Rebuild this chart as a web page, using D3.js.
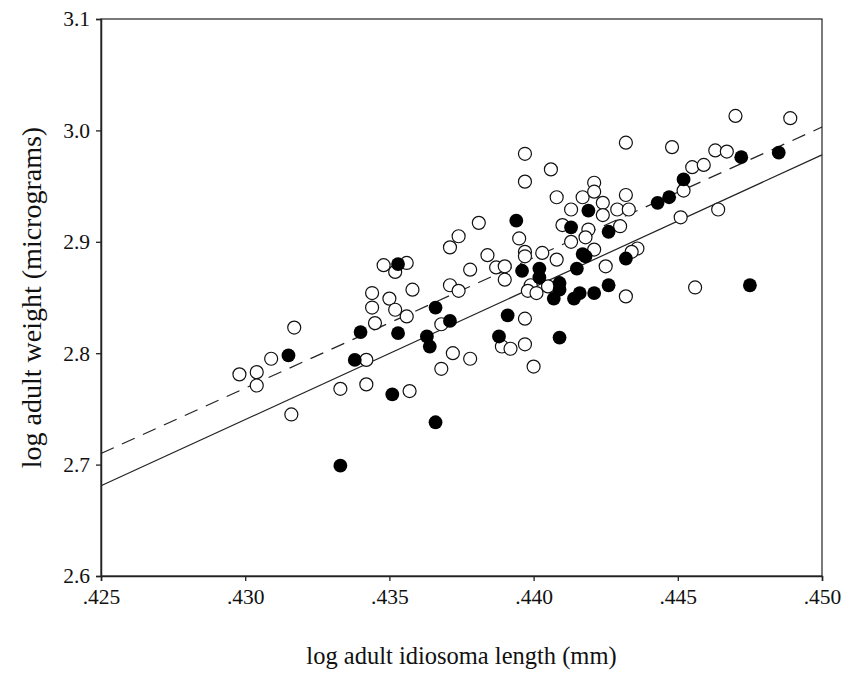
<!DOCTYPE html>
<html>
<head>
<meta charset="utf-8">
<script src="https://cdn.jsdelivr.net/npm/d3@7"></script>
<style>
  body { margin: 0; background: #fff; }
  svg text { font-family: "Liberation Serif", "Times New Roman", serif; fill: #111; }
</style>
</head>
<body>
<svg id="chart" width="850" height="677"></svg>
<script>
// filled circles: [log idiosoma length, log weight]
const filledPts = [
  [.4315, 2.798], [.4333, 2.699], [.4340, 2.819], [.4338, 2.794], [.4353, 2.818],
  [.4353, 2.880], [.4351, 2.763], [.4366, 2.841], [.4371, 2.829], [.4363, 2.815],
  [.4364, 2.806], [.4366, 2.738], [.4394, 2.919], [.4391, 2.834], [.4388, 2.815],
  [.4396, 2.874], [.4402, 2.876], [.4402, 2.868], [.4415, 2.876], [.4409, 2.863],
  [.4409, 2.857], [.4407, 2.849], [.4414, 2.849], [.4416, 2.854], [.4421, 2.854],
  [.4426, 2.861], [.4419, 2.928], [.4413, 2.913], [.4417, 2.889], [.4418, 2.887],
  [.4426, 2.909], [.4409, 2.814], [.4432, 2.885], [.4443, 2.935], [.4447, 2.940],
  [.4452, 2.956], [.4472, 2.976], [.4485, 2.980], [.4475, 2.861]
];

// open circles
const openPts = [
  [.4298, 2.781], [.4304, 2.783], [.4304, 2.771], [.4309, 2.795], [.4317, 2.823],
  [.4316, 2.745], [.4333, 2.768], [.4342, 2.772], [.4342, 2.794], [.4357, 2.766],
  [.4348, 2.879], [.4356, 2.881], [.4352, 2.873], [.4358, 2.857], [.4344, 2.854],
  [.4350, 2.849], [.4344, 2.841], [.4352, 2.839], [.4356, 2.833], [.4345, 2.827],
  [.4397, 2.979], [.4406, 2.965], [.4397, 2.954], [.4408, 2.940], [.4417, 2.940],
  [.4421, 2.953], [.4421, 2.945], [.4424, 2.935], [.4413, 2.929], [.4429, 2.929],
  [.4433, 2.929], [.4432, 2.989], [.4424, 2.924], [.4381, 2.917], [.4410, 2.915],
  [.4374, 2.905], [.4371, 2.895], [.4395, 2.903], [.4419, 2.911], [.4418, 2.904],
  [.4413, 2.900], [.4430, 2.914], [.4384, 2.888], [.4397, 2.891], [.4397, 2.887],
  [.4403, 2.890], [.4408, 2.884], [.4421, 2.893], [.4425, 2.878], [.4378, 2.875],
  [.4387, 2.877], [.4390, 2.878], [.4390, 2.866], [.4405, 2.860], [.4371, 2.861],
  [.4374, 2.856], [.4399, 2.861], [.4398, 2.856], [.4401, 2.854], [.4368, 2.826],
  [.4397, 2.831], [.4397, 2.808], [.4372, 2.800], [.4378, 2.795], [.4368, 2.786],
  [.4389, 2.806], [.4392, 2.804], [.4400, 2.788], [.4432, 2.851], [.4470, 3.013],
  [.4489, 3.011], [.4448, 2.985], [.4463, 2.982], [.4467, 2.981], [.4455, 2.967],
  [.4459, 2.969], [.4452, 2.946], [.4464, 2.929], [.4451, 2.922], [.4432, 2.942],
  [.4436, 2.894], [.4434, 2.891], [.4456, 2.859]
];

// fitted lines (endpoints in data units)
const fitSolid = [[.425, 2.681], [.450, 2.978]];
const fitDashed = [[.425, 2.710], [.450, 3.003]];

const xTicks = [.425, .430, .435, .440, .445, .450];
const yTicks = [2.6, 2.7, 2.8, 2.9, 3.0, 3.1];

const margin = {left: 101, right: 28, top: 19, bottom: 101};
const W = 850, H = 677;

const svg = d3.select('#chart');
const x = d3.scaleLinear().domain([.425, .450]).range([margin.left, W - margin.right]);
const y = d3.scaleLinear().domain([2.6, 3.1]).range([H - margin.bottom, margin.top]);

// frame (top and right edges)
svg.append('rect')
  .attr('x', x(.425)).attr('y', y(3.1))
  .attr('width', x(.450) - x(.425)).attr('height', y(2.6) - y(3.1))
  .attr('fill', 'none').attr('stroke', '#222').attr('stroke-width', 1.2);

const xAxis = svg.append('g')
  .attr('transform', `translate(0,${y(2.6)})`)
  .call(d3.axisBottom(x).tickValues(xTicks).tickSize(5).tickPadding(8)
    .tickFormat(d => d3.format('.3f')(d).replace(/^0/, '')));

const yAxis = svg.append('g')
  .attr('transform', `translate(${x(.425)},0)`)
  .call(d3.axisLeft(y).tickValues(yTicks).tickSize(5).tickPadding(6)
    .tickFormat(d3.format('.1f')));

[xAxis, yAxis].forEach(a => {
  a.select('.domain').attr('stroke', '#222').attr('stroke-width', 1.5);
  a.selectAll('.tick line').attr('stroke', '#222').attr('stroke-width', 1.3);
  a.selectAll('.tick text').attr('font-size', 21.5)
    .attr('font-family', '"Liberation Serif", serif').attr('fill', '#111');
});

// regression lines
const line = d3.line().x(d => x(d[0])).y(d => y(d[1]));
svg.append('path').datum(fitSolid)
  .attr('d', line).attr('fill', 'none').attr('stroke', '#222').attr('stroke-width', 1.2);
svg.append('path').datum(fitDashed)
  .attr('d', line).attr('fill', 'none').attr('stroke', '#222').attr('stroke-width', 1.2)
  .attr('stroke-dasharray', '14,9');

// points
const r = 6.5;
svg.append('g').selectAll('circle.open')
  .data(openPts).enter().append('circle')
  .attr('class', 'open')
  .attr('cx', d => x(d[0])).attr('cy', d => y(d[1])).attr('r', r)
  .attr('fill', '#fff').attr('stroke', '#111').attr('stroke-width', 1.2);

svg.append('g').selectAll('circle.filled')
  .data(filledPts).enter().append('circle')
  .attr('class', 'filled')
  .attr('cx', d => x(d[0])).attr('cy', d => y(d[1])).attr('r', r + 0.4)
  .attr('fill', '#000');

// axis titles
svg.append('text')
  .attr('x', (x(.425) + x(.450)) / 2).attr('y', 664)
  .attr('text-anchor', 'middle').attr('font-size', 24.5)
  .text('log adult idiosoma length (mm)');

svg.append('text')
  .attr('transform', `translate(41,${(y(2.6) + y(3.1)) / 2}) rotate(-90)`)
  .attr('text-anchor', 'middle').attr('font-size', 28)
  .text('log adult weight (micrograms)');
</script>
</body>
</html>
